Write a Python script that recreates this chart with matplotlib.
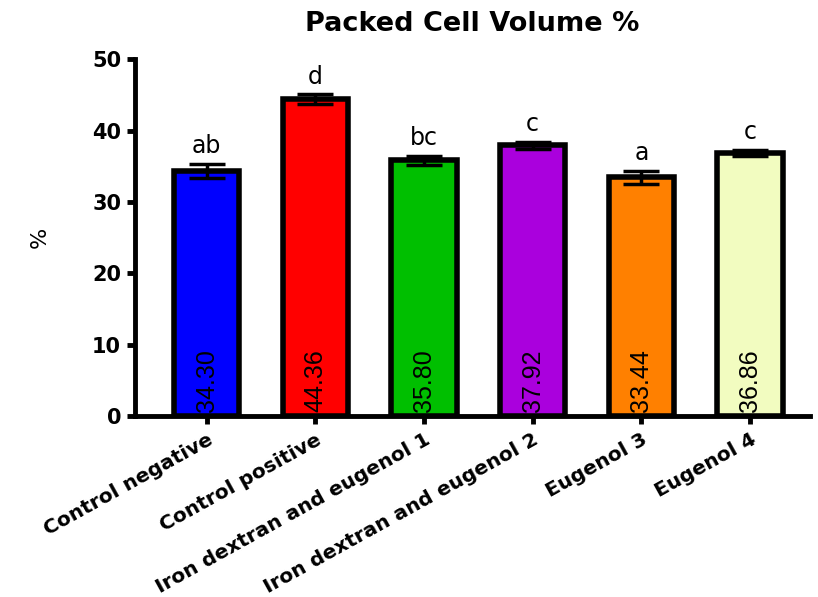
import numpy as np
import matplotlib.pyplot as plt

groups = ['Control negative', 'Control positive', 'Iron dextran and eugenol 1',
          'Iron dextran and eugenol 2', 'Eugenol 3', 'Eugenol 4']
means = [34.30, 44.36, 35.80, 37.92, 33.44, 36.86]
errors = [1.0, 0.7, 0.6, 0.45, 0.9, 0.4]
letters = ['ab', 'd', 'bc', 'c', 'a', 'c']
colors = ['#0000FF', '#FF0000', '#00BF00', '#AA00DD', '#FF8000', '#F2FCC0']

plt.rcParams['font.family'] = ['DejaVu Sans']

fig = plt.figure(figsize=(8.18, 5.97), dpi=100)
ax = fig.add_axes([0.165, 0.303, 0.825, 0.598])

x = np.arange(len(groups))
ax.bar(x, means, width=0.6, color=colors, edgecolor='black', linewidth=4, zorder=2)
ax.errorbar(x, means, yerr=errors, fmt='none', ecolor='black', elinewidth=2.5,
            capsize=13, capthick=2.5, zorder=3)

for xi, m, e, lab in zip(x, means, errors, letters):
    ax.text(xi, m + e + 0.8, lab, ha='center', va='bottom', fontsize=17)
    # value printed inside the bar, near the base
    ax.text(xi, 0.6, f'{m:.2f}', rotation=90, ha='center', va='bottom', fontsize=18,
            family=['Liberation Sans Narrow', 'Liberation Sans'])

ax.set_xlim(-0.66, 5.55)
ax.set_ylim(0, 50)
ax.set_yticks([0, 10, 20, 30, 40, 50])
ax.set_xticks(x)
ax.set_xticklabels(groups, rotation=29, ha='right', va='top', rotation_mode='anchor',
                   fontsize=14.5, fontweight='bold')
for t in ax.get_yticklabels():
    t.set_fontsize(15)
    t.set_fontweight('bold')

ax.spines['top'].set_visible(False)
ax.spines['right'].set_visible(False)
ax.spines['left'].set_linewidth(3.5)
ax.spines['bottom'].set_linewidth(3.5)
ax.tick_params(axis='both', width=3.5, length=6, pad=4)

ax.set_ylabel('%', fontsize=16)
ax.yaxis.set_label_coords(-0.126, 0.5)
ax.set_title('Packed Cell Volume %', fontsize=19.5, fontweight='bold', pad=20)

fig.savefig('out.png', dpi=100)
